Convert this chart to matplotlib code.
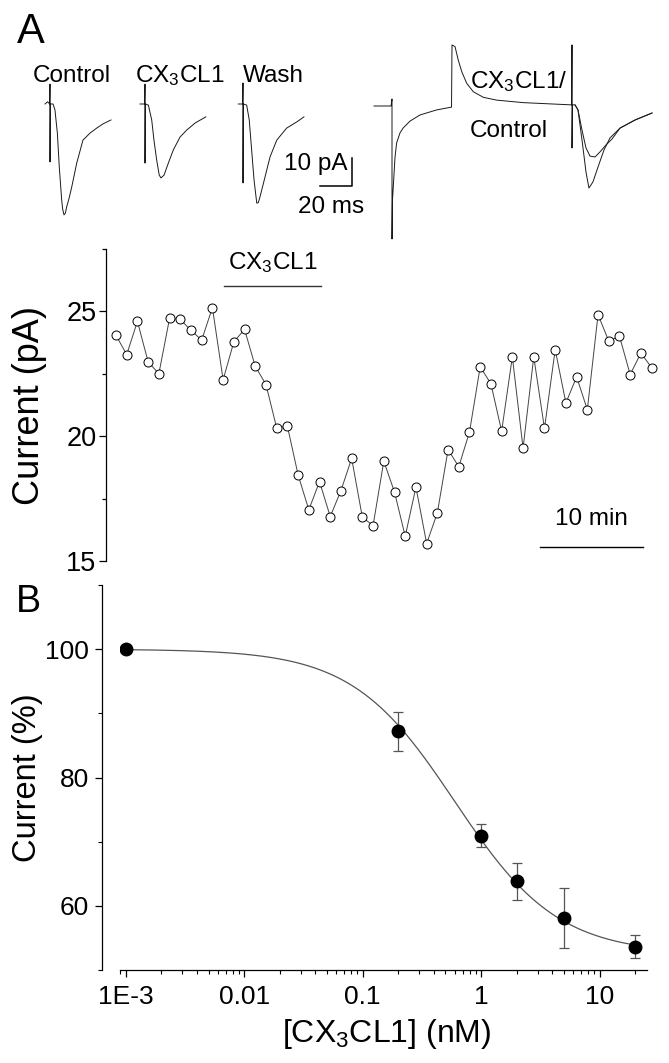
import numpy as np
import matplotlib
matplotlib.use("Agg")
import matplotlib.pyplot as plt
from matplotlib.ticker import FixedLocator, FixedFormatter, LogLocator, NullFormatter

plt.rcParams['font.family'] = ['Liberation Sans', 'DejaVu Sans']
plt.rcParams['mathtext.fontset'] = 'custom'
plt.rcParams['mathtext.rm'] = 'Liberation Sans'
plt.rcParams['mathtext.it'] = 'Liberation Sans:italic'
plt.rcParams['mathtext.default'] = 'rm'

# ---- A, top: example EPSCs (t in ms from stimulus, I in pA from baseline) ----
ctrl_t = [-3.1, -1.5, -0.2, 0, 0, 0.2, 1.9, 3.1, 4.6, 5.8, 7.3, 7.9, 8.75, 9.6, 10.4, 12, 13.6, 16.7,
          20.6, 25, 29.2, 33.1, 38.1]
ctrl_i = [0, 0.8, 0, 7.1, -20.7, 0, 0, -2.1, -10.4, -22.5, -34.3, -37.5, -39.6, -39, -36.8, -33.5,
          -29.6, -21.1, -12.9, -10.4, -8.6, -7.1, -5.7]

cx_t = [-3.1, -0.2, 0, 0, 0.2, 2.1, 4.2, 5.6, 7.3, 8.9, 10, 11.9, 14.6, 17.7, 21.9, 26.1, 31.3, 38]
cx_i = [0, 0, 7.1, -21.1, 0, -0.4, -5.7, -12.9, -20.0, -25.4, -26.4, -25.4, -21.1, -16.4, -11.8,
        -9.3, -6.8, -4.6]

wash_t = [-2.9, -0.2, 0, 0, 0.2, 2.3, 3.9, 5.4, 6.9, 8.6, 9.6, 10.6, 13.75, 16.9, 21.1, 27.3, 33.6, 38.1]
wash_i = [0, 0, 7.5, -28.2, 0, -0.4, -5.7, -16.4, -27.1, -35.4, -35.2, -33.2, -26.1, -18.9, -12.9,
          -8.6, -6.4, -4.6]

# long sweep (control), then CX3CL1 overlay of the EPSC part
long_t = [-11.25, -0.6, 0, 0, 0.3, 1.9, 2.9, 5, 6.9, 11.25, 17.5, 27.9, 37.2,
          37.5, 39.4, 41.4, 43.6, 46.7, 50.8, 57.1, 65.4, 82.1, 112.3,
          112.5, 112.5, 112.8, 114.4, 116.25, 118.75, 121.25, 123.1,
          125.6, 128.75, 132.5, 136.25, 142.5, 151.9, 162.5]
long_i = [0, 0, 2.5, -47.5, -33.6, -18.2, -13.2, -9.6, -7.9, -5.4, -3.2, -1.4, -0.4,
          21.8, 21.2, 16.4, 12.25, 8.1, 5.1, 3.1, 2.1, 1.2, 0.4,
          21.8, -15, 0.4, 0.4, -1.4, -12.1, -23.6, -29.3,
          -27.1, -21.8, -15.7, -11.4, -7.9, -5, -2.5]
ovl_t = [114.4, 116.25, 118.75, 121.25, 123.75, 126.9, 130, 133.75, 137.5, 142.5, 151.9, 162.5]
ovl_i = [0.4, -1.4, -8.6, -15, -17.9, -18.2, -16.4, -13.9, -11.8, -7.9, -5, -2.5]

# ---- A, bottom: time course ----
tc_current = [24.04, 23.27, 24.6, 22.98, 22.5, 24.72, 24.68, 24.24, 23.85, 25.15,
              22.26, 23.78, 24.28, 22.8, 22.07, 20.33, 20.4, 18.45, 17.05, 18.18,
              16.78, 17.82, 19.11, 16.75, 16.42, 19.0, 17.76, 15.99, 17.96, 15.7,
              16.93, 19.46, 18.78, 20.17, 22.78, 22.1, 20.2, 23.18, 19.52, 23.18,
              20.31, 23.47, 21.33, 22.38, 21.06, 24.87, 23.81, 24.01, 22.47, 23.33, 22.75]
sample_min = 1.04
drug_on, drug_off = 10.5, 19.9

# ---- B: concentration-response ----
conc = [0.001, 0.2, 1, 2, 5, 20]
pct = [100, 87.2, 70.9, 63.8, 58.1, 53.6]
sem = [0, 3.0, 1.8, 2.9, 4.7, 1.8]
fit_top, fit_bottom, fit_ic50, fit_hill = 100, 52.5, 0.6, 1.0

W, H = 669, 1063
fig = plt.figure(figsize=(W / 100, H / 100), dpi=100)


def fx(x):
    return x / W


def fy(y):
    return 1 - y / H


# trace axes, covering the top strip in ms / pA units
PX_MS, PX_PA = 1.6, 2.8
TOP_H = 245
ax_tr = fig.add_axes([0, fy(TOP_H), 1, TOP_H / H])
ax_tr.set_xlim(0, W / PX_MS)
ax_tr.set_ylim(-TOP_H / PX_PA, 0)
ax_tr.axis('off')


def trace(t, i, x0, y0):
    t = np.asarray(t) + x0 / PX_MS
    i = np.asarray(i) - y0 / PX_PA
    ax_tr.plot(t, i, color='#1a1a1a', lw=0.7)


trace(ctrl_t, ctrl_i, 50, 104)
trace(cx_t, cx_i, 145, 104)
trace(wash_t, wash_i, 243, 104)
trace(long_t, long_i, 392, 106)
trace(ovl_t, ovl_i, 392, 106)

# scale bar 10 pA / 20 ms
sb_x, sb_y = 352 / PX_MS, -186 / PX_PA
ax_tr.plot([sb_x - 20, sb_x, sb_x], [sb_y, sb_y, sb_y + 10], color='black', lw=1.1)

fs_lab = 17.5
fig.text(fx(33), fy(82), 'Control', fontsize=fs_lab, va='baseline', ha='left')
fig.text(fx(135), fy(82), 'CX$_3$CL1', fontsize=fs_lab, va='baseline', ha='left')
fig.text(fx(243), fy(82), 'Wash', fontsize=fs_lab, va='baseline', ha='left')
fig.text(fx(470), fy(88), 'CX$_3$CL1/', fontsize=fs_lab, va='baseline', ha='left')
fig.text(fx(470), fy(137), 'Control', fontsize=fs_lab, va='baseline', ha='left')
fig.text(fx(347), fy(170), '10 pA', fontsize=fs_lab, va='baseline', ha='right')
fig.text(fx(298), fy(213), '20 ms', fontsize=fs_lab, va='baseline', ha='left')

fig.text(fx(17), fy(43), 'A', fontsize=30, va='baseline', ha='left')
fig.text(fx(16), fy(612), 'B', fontsize=27, va='baseline', ha='left')

# ---- time course axes ----
ax_tc = fig.add_axes([fx(106), fy(561), (W - 106) / W, (561 - 249) / H])
t_min = np.arange(len(tc_current)) * sample_min
ax_tc.plot(t_min, tc_current, color='#444444', lw=0.7, marker='o', ms=6.5,
           mfc='white', mec='black', mew=0.7)
px_min = 10.3
ax_tc.set_xlim(-10 / px_min, (W - 116) / px_min)
ax_tc.set_ylim(15, 27.5)
for s in ['top', 'right', 'bottom']:
    ax_tc.spines[s].set_visible(False)
ax_tc.spines['left'].set_linewidth(0.9)
ax_tc.set_xticks([])
ax_tc.yaxis.set_major_locator(FixedLocator([15, 20, 25]))
ax_tc.yaxis.set_minor_locator(FixedLocator([17.5, 22.5, 27.5]))
ax_tc.tick_params(axis='y', which='major', length=5, width=0.9, labelsize=19.5, pad=2)
ax_tc.tick_params(axis='y', which='minor', length=3, width=0.9)
lab = ax_tc.set_ylabel('Current (pA)', fontsize=26)
lab.set_va('center')
ax_tc.yaxis.set_label_coords((29 - 106) / (W - 106), 0.5)

ax_tc.plot([drug_on, drug_off], [26.02, 26.02], color='#333333', lw=1.0)
ax_tc.text((drug_on + drug_off) / 2, 26.7, 'CX$_3$CL1', fontsize=fs_lab, ha='center', va='baseline')
ax_tc.plot([41.2, 51.2], [15.56, 15.56], color='black', lw=1.0)
ax_tc.text(46.2, 16.45, '10 min', fontsize=fs_lab, ha='center', va='baseline')

# ---- B axes ----
ax_b = fig.add_axes([fx(120), fy(970), (647 - 120) / W, (970 - 585) / H])
ax_b.set_xscale('log')
xf = np.logspace(np.log10(conc[0]), np.log10(conc[-1]), 300)
yf = fit_bottom + (fit_top - fit_bottom) / (1 + (xf / fit_ic50) ** fit_hill)
ax_b.plot(xf, yf, color='#555555', lw=0.9, zorder=2)
ax_b.errorbar(conc[1:], pct[1:], yerr=sem[1:], fmt='none', ecolor='#555555',
              elinewidth=0.9, capsize=3.5, capthick=0.9, zorder=3)
ax_b.plot(conc, pct, 'o', color='black', ms=9, zorder=4)
ax_b.set_xlim(10 ** -3.048, 10 ** 1.4)
ax_b.set_ylim(50, 110)
for s in ['top', 'right']:
    ax_b.spines[s].set_visible(False)
ax_b.spines['left'].set_position(('outward', 13))
ax_b.spines['left'].set_linewidth(0.9)
ax_b.spines['bottom'].set_linewidth(0.9)
ax_b.yaxis.set_major_locator(FixedLocator([60, 80, 100]))
ax_b.yaxis.set_minor_locator(FixedLocator([50, 70, 90, 110]))
ax_b.xaxis.set_major_locator(FixedLocator([0.001, 0.01, 0.1, 1, 10]))
ax_b.xaxis.set_major_formatter(FixedFormatter(['1E-3', '0.01', '0.1', '1', '10']))
ax_b.xaxis.set_minor_locator(LogLocator(base=10, subs=np.arange(2, 10), numticks=20))
ax_b.xaxis.set_minor_formatter(NullFormatter())
ax_b.tick_params(which='major', length=5, width=0.9, labelsize=19)
ax_b.tick_params(which='minor', length=3, width=0.8)
ax_b.tick_params(axis='y', which='major', pad=4.5)
ax_b.tick_params(axis='x', which='major', pad=6)
lab = ax_b.set_ylabel('Current (%)', fontsize=23.5)
lab.set_va('center')
ax_b.yaxis.set_label_coords((28 - 120) / (647 - 120), 0.5)
lab = ax_b.set_xlabel('[CX$_3$CL1] (nM)', fontsize=23)
lab.set_va('baseline')
ax_b.xaxis.set_label_coords((387 - 120) / (647 - 120), -(1042 - 970) / (970 - 585))

fig.savefig('out.png', dpi=100)
